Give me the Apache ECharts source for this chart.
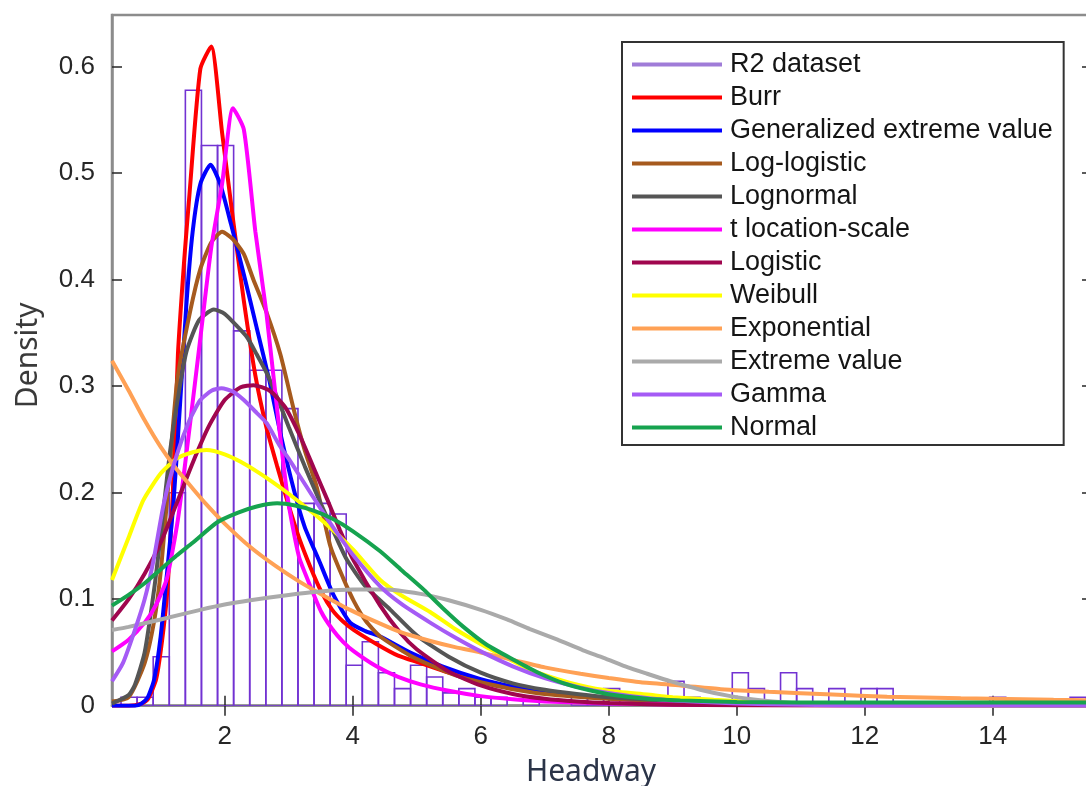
<!DOCTYPE html>
<html>
<head>
<meta charset="utf-8">
<script src="https://cdn.jsdelivr.net/npm/echarts@6/dist/echarts.min.js"></script>
<style>
  html, body { margin: 0; padding: 0; background: #ffffff; }
  #chart { width: 1086px; height: 786px; }
</style>
</head>
<body>
<div id="chart"></div>
<script>
// Axis ticks
const xTicks = [2, 4, 6, 8, 10, 12, 14];
const yTicks = [0, 0.1, 0.2, 0.3, 0.4, 0.5, 0.6];

// Histogram of the R2 headway sample (density per bin)
const binStart = 0.381;
const binWidth = 0.2513;
const binDensity = [
  0.008, 0.008, 0.046, 0.20, 0.578, 0.526, 0.526, 0.352, 0.315, 0.315,
  0.279, 0.19, 0.19, 0.18, 0.038, 0.060, 0.031, 0.016, 0.038, 0.027,
  0.012, 0.016, 0.008, 0.008, 0, 0.008, 0, 0, 0.008, 0.008,
  0.016, 0, 0, 0, 0.023, 0.008, 0, 0, 0.031, 0.016,
  0, 0.031, 0.016, 0, 0.016, 0, 0.016, 0.016, 0, 0,
  0, 0, 0, 0, 0.008, 0, 0, 0, 0, 0.008
];

// Fitted probability density curves: [headway, density]
const burr = [[0.24,0],[0.5,0],[0.7,0.002],[0.8,0.006],[0.93,0.025],[1.02,0.06],[1.10,0.105],[1.19,0.2],[1.27,0.33],[1.37,0.42],[1.45,0.48],[1.62,0.598],[1.79,0.619],[1.96,0.538],[2.13,0.457],[2.30,0.38],[2.48,0.31],[2.65,0.262],[2.82,0.225],[2.99,0.19],[3.16,0.158],[3.34,0.13],[3.51,0.107],[3.68,0.09],[3.85,0.079],[4.02,0.071],[4.37,0.058],[4.71,0.047],[5.06,0.04],[5.5,0.031],[6.0,0.023],[6.5,0.017],[7.0,0.012],[7.5,0.009],[8.0,0.007],[9.0,0.004],[10,0.0025],[11,0.0016],[12,0.001],[13,0.0007],[14,0.0005],[15.55,0.0003]];
const gev = [[0.24,0],[0.6,0],[0.7,0.002],[0.8,0.008],[0.9,0.025],[1.0,0.065],[1.1,0.125],[1.2,0.19],[1.3,0.28],[1.4,0.375],[1.5,0.445],[1.62,0.49],[1.78,0.508],[1.93,0.49],[2.1,0.452],[2.3,0.405],[2.5,0.355],[2.7,0.305],[2.87,0.256],[3.08,0.203],[3.25,0.168],[3.47,0.137],[3.7,0.104],[3.96,0.078],[4.2,0.07],[4.43,0.065],[4.9,0.05],[5.4,0.037],[6.0,0.025],[6.5,0.018],[7.0,0.013],[8.0,0.007],[9.0,0.0045],[10,0.003],[12,0.0015],[15.55,0.0008]];
const logLogistic = [[0.24,0.004],[0.5,0.008],[0.75,0.04],[0.9,0.08],[1.0,0.125],[1.1,0.193],[1.26,0.306],[1.46,0.37],[1.62,0.41],[1.79,0.435],[1.96,0.445],[2.13,0.438],[2.30,0.424],[2.45,0.40],[2.65,0.37],[2.87,0.33],[3.08,0.278],[3.25,0.24],[3.44,0.205],[3.65,0.15],[3.85,0.12],[4.02,0.098],[4.2,0.08],[4.43,0.065],[4.9,0.047],[5.3,0.036],[5.68,0.027],[6.0,0.022],[6.46,0.016],[7.0,0.011],[8.0,0.0065],[9,0.004],[10,0.0025],[12,0.0012],[15.55,0.0005]];
const lognormal = [[0.24,0.002],[0.5,0.01],[0.6,0.02],[0.75,0.05],[0.9,0.11],[1.0,0.16],[1.15,0.24],[1.3,0.3],[1.41,0.334],[1.6,0.362],[1.83,0.372],[2.0,0.368],[2.2,0.356],[2.35,0.346],[2.5,0.33],[2.66,0.312],[2.85,0.285],[3.0,0.262],[3.25,0.225],[3.5,0.19],[3.75,0.157],[3.91,0.137],[4.2,0.112],[4.59,0.09],[5.0,0.066],[5.5,0.046],[6.0,0.031],[6.5,0.021],[7.0,0.015],[7.5,0.011],[8.0,0.008],[9.0,0.0045],[10,0.0025],[11,0.0015],[12,0.001],[14,0.0004],[15.55,0.0002]];
const tLocationScale = [[0.24,0.051],[0.5,0.062],[0.75,0.078],[0.93,0.095],[1.1,0.12],[1.27,0.175],[1.45,0.26],[1.62,0.345],[1.79,0.43],[1.96,0.49],[2.13,0.561],[2.30,0.541],[2.48,0.445],[2.65,0.37],[2.82,0.278],[2.99,0.193],[3.16,0.14],[3.34,0.112],[3.51,0.088],[3.68,0.072],[3.85,0.06],[4.02,0.051],[4.37,0.037],[4.71,0.027],[5.06,0.02],[5.5,0.014],[6.0,0.009],[6.5,0.006],[7.0,0.004],[8.0,0.002],[9.0,0.0012],[10,0.0008],[12,0.0004],[15.55,0.0002]];
const logistic = [[0.24,0.08],[0.5,0.1],[0.75,0.124],[1.0,0.153],[1.25,0.19],[1.5,0.228],[1.75,0.262],[2.0,0.287],[2.25,0.299],[2.45,0.301],[2.7,0.296],[2.95,0.28],[3.18,0.253],[3.4,0.222],[3.6,0.194],[3.8,0.165],[4.0,0.138],[4.43,0.094],[4.75,0.068],[5.0,0.053],[5.5,0.032],[6.0,0.019],[6.5,0.011],[7.0,0.0065],[7.5,0.004],[8.0,0.0025],[9.0,0.001],[10,0.0004],[12,0.0001],[15.55,0]];
const weibull = [[0.24,0.118],[0.5,0.158],[0.73,0.193],[1.0,0.218],[1.25,0.232],[1.5,0.238],[1.72,0.24],[2.0,0.236],[2.25,0.229],[2.5,0.22],[2.75,0.21],[3.0,0.199],[3.5,0.175],[4.0,0.147],[4.43,0.118],[4.75,0.104],[5.21,0.088],[5.6,0.072],[6.0,0.058],[6.5,0.042],[6.77,0.034],[7.2,0.025],[7.56,0.019],[8.0,0.014],[8.6,0.0105],[9.0,0.008],[9.64,0.0055],[10.5,0.003],[11.5,0.0015],[12.5,0.0008],[14,0.0003],[15.55,0.0001]];
const exponential = [[0.24,0.324],[0.5,0.296],[0.75,0.268],[1.0,0.243],[1.25,0.222],[1.5,0.204],[1.7,0.19],[2.0,0.171],[2.4,0.149],[2.8,0.131],[3.18,0.116],[3.5,0.105],[3.96,0.09],[4.43,0.077],[4.75,0.069],[5.2,0.061],[5.6,0.055],[6.0,0.05],[6.5,0.043],[7.0,0.036],[7.56,0.030],[8.0,0.026],[8.5,0.022],[9.12,0.019],[9.75,0.0155],[10.5,0.013],[11.5,0.0105],[12.35,0.0085],[13.5,0.007],[14.95,0.0055],[15.55,0.005]];
const extremeValue = [[0.24,0.071],[0.5,0.074],[1.0,0.081],[1.62,0.09],[2.0,0.095],[2.4,0.099],[3.0,0.104],[3.44,0.107],[4.0,0.109],[4.49,0.109],[5.06,0.105],[5.5,0.099],[6.0,0.09],[6.41,0.081],[6.77,0.072],[7.2,0.062],[7.6,0.052],[7.92,0.045],[8.3,0.036],[8.6,0.03],[8.96,0.023],[9.43,0.015],[9.9,0.009],[10.4,0.005],[11,0.0022],[12,0.0005],[13,0.0001],[15.55,0]];
const gamma = [[0.24,0.023],[0.41,0.04],[0.58,0.068],[0.75,0.1],[0.89,0.137],[1.05,0.19],[1.25,0.235],[1.45,0.268],[1.62,0.287],[1.8,0.296],[1.95,0.298],[2.13,0.295],[2.3,0.287],[2.5,0.275],[2.66,0.265],[2.85,0.245],[3.0,0.232],[3.18,0.215],[3.5,0.185],[3.7,0.167],[4.0,0.142],[4.43,0.112],[4.75,0.096],[5.21,0.078],[5.6,0.064],[6.0,0.051],[6.5,0.037],[7.0,0.026],[7.56,0.017],[8.0,0.012],[8.5,0.008],[9.0,0.005],[10,0.002],[11,0.0008],[12,0.0003],[15.55,0]];
const normal = [[0.24,0.094],[0.5,0.104],[0.75,0.115],[1.0,0.128],[1.25,0.141],[1.5,0.153],[1.88,0.172],[2.2,0.181],[2.5,0.187],[2.82,0.19],[3.1,0.188],[3.4,0.183],[3.7,0.175],[4.0,0.164],[4.43,0.145],[4.75,0.128],[5.11,0.109],[5.4,0.092],[5.73,0.074],[6.1,0.057],[6.52,0.043],[6.9,0.031],[7.3,0.021],[7.7,0.0145],[8.08,0.01],[8.6,0.0065],[9.12,0.005],[10,0.0035],[11,0.003],[12,0.003],[14,0.003],[15.55,0.003]];

const fits = [
  { name: 'Burr', color: '#ff0000', data: burr },
  { name: 'Generalized extreme value', color: '#0000ff', data: gev },
  { name: 'Log-logistic', color: '#a65a1e', data: logLogistic },
  { name: 'Lognormal', color: '#555555', data: lognormal },
  { name: 't location-scale', color: '#ff00ff', data: tLocationScale },
  { name: 'Logistic', color: '#a0064e', data: logistic },
  { name: 'Weibull', color: '#ffff00', data: weibull },
  { name: 'Exponential', color: '#ffa155', data: exponential },
  { name: 'Extreme value', color: '#aaaaaa', data: extremeValue },
  { name: 'Gamma', color: '#a55bf5', data: gamma },
  { name: 'Normal', color: '#16a34f', data: normal }
];

const histData = binDensity
  .map((d, i) => [binStart + i * binWidth, binStart + (i + 1) * binWidth, d])
  .filter(b => b[2] > 0);

const X_MIN = 0.24, X_MAX = 15.55, Y_MIN = 0, Y_MAX = 0.6486;
const tickFont = { fontFamily: 'Liberation Sans, Arial, sans-serif', fontSize: 26, color: '#262626' };

const chart = echarts.init(document.getElementById('chart'), null, { renderer: 'canvas' });

const series = [{
  name: 'R2 dataset',
  type: 'custom',
  itemStyle: { color: '#a07cd8' },
  encode: { x: [0, 1], y: 2 },
  data: histData,
  clip: true,
  silent: true,
  z: 1,
  renderItem: function (params, api) {
    const topLeft = api.coord([api.value(0), api.value(2)]);
    const bottomRight = api.coord([api.value(1), 0]);
    return {
      type: 'rect',
      shape: {
        x: topLeft[0],
        y: topLeft[1],
        width: bottomRight[0] - topLeft[0],
        height: bottomRight[1] - topLeft[1]
      },
      style: { fill: 'none', stroke: '#7232d2', lineWidth: 1.6 }
    };
  }
}].concat(fits.map(f => ({
  name: f.name,
  type: 'line',
  data: f.data,
  color: f.color,
  showSymbol: false,
  smooth: 0.2,
  clip: true,
  silent: true,
  z: 2,
  lineStyle: { width: 4, color: f.color }
})));

const option = {
  animation: false,
  backgroundColor: '#ffffff',
  grid: {
    left: 112, top: 15, width: 980, height: 690.7,
    outerBoundsMode: 'none',
    show: true, borderColor: '#8c8c8c', borderWidth: 2.5, backgroundColor: 'transparent'
  },
  xAxis: [{
    type: 'value', min: X_MIN, max: X_MAX, position: 'bottom',
    axisLine: { show: true, lineStyle: { color: '#8c8c8c', width: 2.5 } },
    axisTick: { show: true, inside: true, length: 10, customValues: xTicks, lineStyle: { color: '#262626', width: 1.5 } },
    axisLabel: Object.assign({ customValues: xTicks, margin: 18 }, tickFont),
    splitLine: { show: false },
    name: 'Headway', nameLocation: 'middle', nameGap: 52,
    nameTextStyle: { fontFamily: 'Noto Sans, sans-serif', fontSize: 30, color: '#2b3448', padding: [0, 22, 0, 0] }
  }, {
    type: 'value', min: X_MIN, max: X_MAX, position: 'top',
    axisLine: { show: false },
    axisTick: { show: true, inside: true, length: 10, customValues: xTicks, lineStyle: { color: '#262626', width: 1.5 } },
    axisLabel: { show: false },
    splitLine: { show: false }
  }],
  yAxis: [{
    type: 'value', min: Y_MIN, max: Y_MAX, position: 'left',
    axisLine: { show: true, lineStyle: { color: '#8c8c8c', width: 2.5 } },
    axisTick: { show: true, inside: true, length: 10, customValues: yTicks, lineStyle: { color: '#262626', width: 1.5 } },
    axisLabel: Object.assign({ customValues: yTicks, margin: 17 }, tickFont),
    splitLine: { show: false },
    name: 'Density', nameLocation: 'middle', nameGap: 69, nameRotate: 90,
    nameTextStyle: { fontFamily: 'Noto Sans, sans-serif', fontSize: 30, color: '#3a3a3a', padding: [0, 0, 0, 10] }
  }, {
    type: 'value', min: Y_MIN, max: Y_MAX, position: 'right',
    axisLine: { show: false },
    axisTick: { show: true, inside: true, length: 10, customValues: yTicks, lineStyle: { color: '#262626', width: 1.5 } },
    axisLabel: { show: false },
    splitLine: { show: false }
  }],
  legend: {
    orient: 'vertical',
    left: 622, top: 42,
    data: ['R2 dataset'].concat(fits.map(f => f.name)),
    icon: 'rect',
    itemWidth: 90, itemHeight: 4, itemGap: 6,
    selectedMode: false,
    backgroundColor: '#ffffff',
    borderColor: '#333333', borderWidth: 2, borderRadius: 0,
    padding: [9, 11, 4, 10],
    textStyle: { fontFamily: 'Liberation Sans, Arial, sans-serif', fontSize: 27, color: '#151515', padding: [0, 0, 0, 3] }
  },
  series: series
};

chart.setOption(option);
</script>
</body>
</html>
